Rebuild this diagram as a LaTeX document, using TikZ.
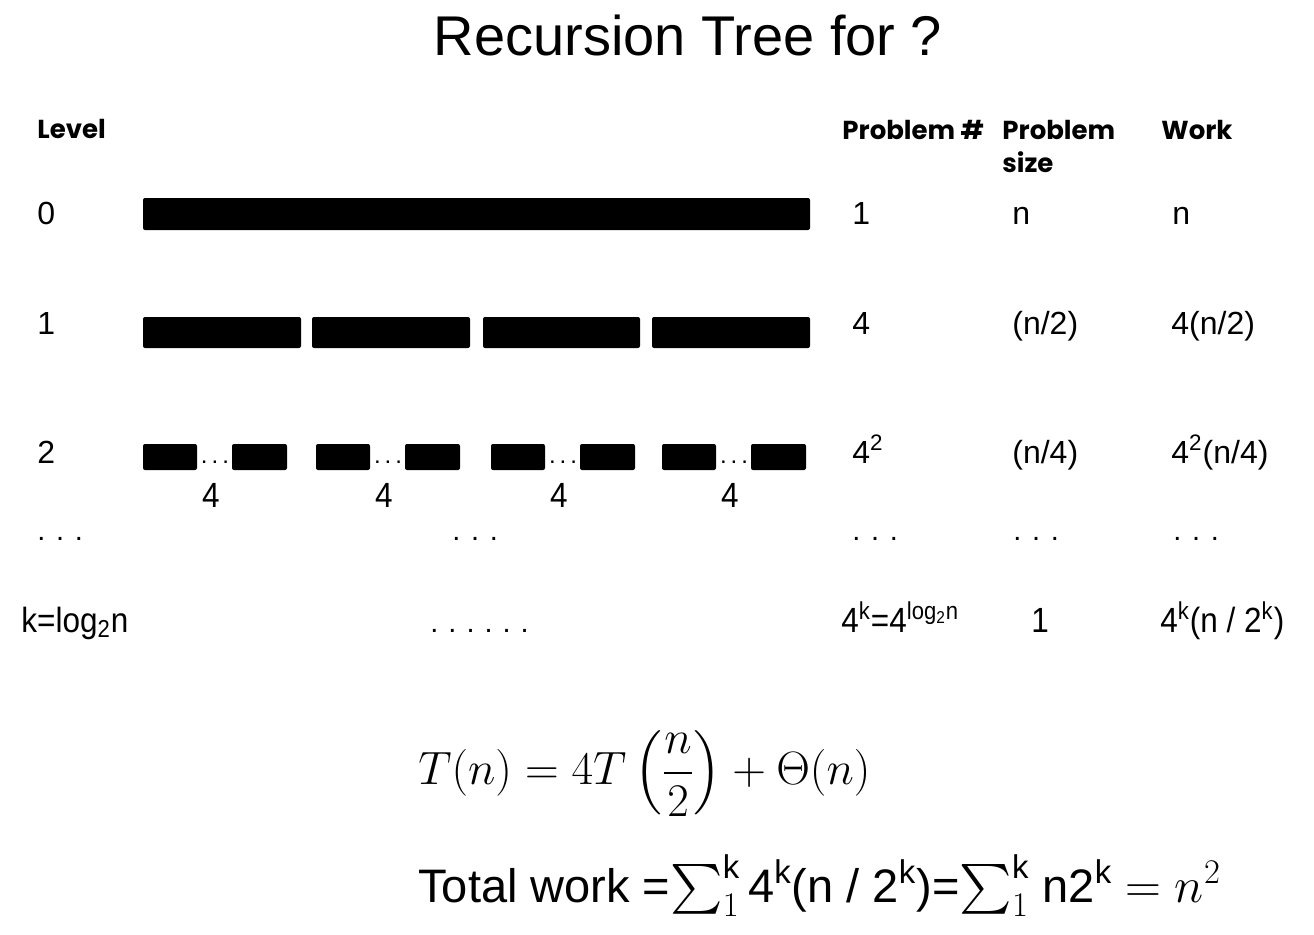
\documentclass[tikz,border=0pt]{standalone}
\usepackage{amsmath}
\usepackage{fontspec}
\setmainfont{Liberation Sans}
\newfontfamily\headfont{Poppins}
\newfontfamily\narrowfont{Liberation Sans}[FakeStretch=0.9]
\usetikzlibrary{positioning}

\begin{document}
\begin{tikzpicture}[
    x=0.5pt, y=-0.5pt,
    bar/.style={fill=black, rounded corners=1pt},
    head/.style={anchor=base west, inner sep=0, font=\fontsize{13}{16.5}\selectfont\headfont\bfseries},
    cell/.style={anchor=base west, inner sep=0, font=\fontsize{16}{19}\selectfont},
    narrowcell/.style={anchor=base west, inner sep=0, font=\fontsize{17.5}{20}\selectfont\narrowfont},
    dotrow/.style={anchor=base west, inner sep=0, font=\fontsize{14.5}{17}\selectfont}
]
    \useasboundingbox (0,0) rectangle (1314,934);

    % Title
    \node[font=\fontsize{28}{32}\selectfont, inner sep=0] (title) at (688,35) {Recursion Tree for ?};

    % Column heads
    \node[head] (levelhead) at (37,138) {Level};
    \node[head] (numhead) at (842,139) {Problem \#};
    \node[head] (sizehead) at (1002,139) {\begin{tabular}[t]{@{}l@{}}Problem\\size\end{tabular}};
    \node[head] (workhead) at (1161,139) {Work};

    % Level 0
    \node[cell] (lvl0) at (37,224) {0};
    \fill[bar] (143,198) rectangle (810,230);
    \node[cell] (num0) at (852,224) {1};
    \node[cell] (size0) at (1012,224) {n};
    \node[cell] (work0) at (1172,224) {n};

    % Level 1
    \node[cell] (lvl1) at (37,334) {1};
    \foreach \xa/\xb in {143/301, 312/470, 483/640, 652/810}
        \fill[bar] (\xa,317) rectangle (\xb,348);
    \node[cell] (num1) at (852,334) {4};
    \node[cell] (size1) at (1012,334) {(n/2)};
    \node[cell] (work1) at (1171,334) {4(n/2)};

    % Level 2
    \node[cell] (lvl2) at (37,463) {2};
    \foreach \xa [count=\i] in {143, 316, 491, 662} {
        \fill[bar] (\xa,444) rectangle ({\xa+54},470);
        \fill[bar] ({\xa+89},444) rectangle ({\xa+144},470);
        \node[inner sep=0, anchor=base, font=\fontsize{12}{14}\selectfont] (gap\i) at ({\xa+72},463) {.\hspace{2pt}.\hspace{2pt}.};
        \node[narrowcell, anchor=base] (split\i) at ({\xa+68},507) {4};
    }
    \node[cell] (num2) at (852,463) {4\textsuperscript{2}};
    \node[cell] (size2) at (1012,463) {(n/4)};
    \node[cell] (work2) at (1171,463) {4\textsuperscript{2}(n/4)};

    % Dots
    \node[dotrow] (lvldots) at (37,540) {. . .};
    \node[dotrow] (bardots) at (452,540) {. . .};
    \node[dotrow] (numdots) at (852,540) {. . .};
    \node[dotrow] (sizedots) at (1013,540) {. . .};
    \node[dotrow] (workdots) at (1173,540) {. . .};

    % Last level
    \node[narrowcell] (lvlk) at (21,632) {k=log\textsubscript{2}n};
    \node[dotrow] (barsk) at (430,632) {.\hspace{5pt}.\hspace{5pt}.\hspace{5pt}.\hspace{5pt}.\hspace{5pt}.};
    \node[narrowcell] (numk) at (841,632) {4\textsuperscript{k}=4\textsuperscript{log\textsubscript{2}n}};
    \node[narrowcell] (sizek) at (1031,632) {1};
    \node[narrowcell] (workk) at (1160,632) {4\textsuperscript{k}(n / 2\textsuperscript{k})};

    % Recurrence and sum
    \node[anchor=west, inner sep=0, scale=0.94, font=\fontsize{24.88}{28}\selectfont] (recur) at (418,774)
        {$T(n) = 4T\left(\dfrac{n}{2}\right) + \Theta(n)$};
    \node[anchor=base west, inner sep=0, font=\fontsize{23.5}{28}\selectfont] (total) at (418,902)
        {Total work =$\sum_{1}^{\text{k}}$\,4\textsuperscript{k}(n / 2\textsuperscript{k})=$\sum_{1}^{\text{k}}$ n2\textsuperscript{k} $= n^{2}$};
\end{tikzpicture}
\end{document}
